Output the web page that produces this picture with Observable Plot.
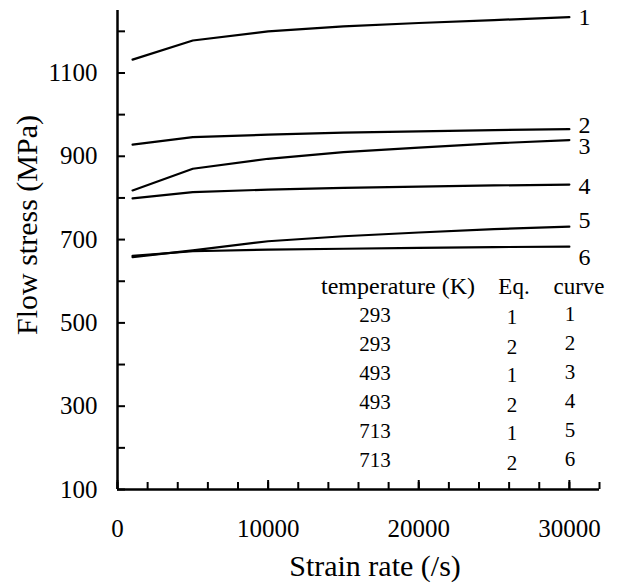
<!DOCTYPE html>
<html>
<head>
<meta charset="utf-8">
<script src="https://cdn.jsdelivr.net/npm/d3@7"></script>
<script src="https://cdn.jsdelivr.net/npm/@observablehq/plot@0.6"></script>
<style>
  html, body { margin: 0; padding: 0; background: #fff; }
  #wrap { position: relative; width: 618px; height: 583px; font-family: "Liberation Serif", "Times New Roman", serif; }
  #wrap svg { display: block; }
  .cell { position: absolute; font-family: "Liberation Serif", "Times New Roman", serif; font-size: 21px; line-height: 1; transform: translate(-50%, -50%); white-space: nowrap; color: #000; }
  .title { position: absolute; font-family: "Liberation Serif", "Times New Roman", serif; font-size: 30px; line-height: 1; white-space: nowrap; color: #000; }
</style>
</head>
<body>
<div id="wrap"></div>
<script>
// ---- data ----
const strainRates = [1000, 5000, 10000, 15000, 20000, 25000, 30000];
const curve1 = [1132, 1178, 1200, 1212, 1220, 1227, 1234];
const curve2 = [928, 946, 952, 957, 960, 963, 965];
const curve3 = [818, 870, 894, 910, 921, 931, 939];
const curve4 = [799, 814, 820, 824, 827, 830, 832];
const curve5 = [658, 674, 696, 708, 717, 725, 731];
const curve6 = [661, 672, 676, 678, 680, 682, 683];
const curveNames = ["1", "2", "3", "4", "5", "6"];
const temperatures = ["293", "293", "493", "493", "713", "713"];
const equations = ["1", "2", "1", "2", "1", "2"];
const tableHeaders = ["temperature (K)", "Eq.", "curve"];
const xTickLabels = [0, 10000, 20000, 30000];
const yTickLabels = [100, 300, 500, 700, 900, 1100];
const xTitle = "Strain rate (/s)";
const yTitle = "Flow stress (MPa)";

const curves = [curve1, curve2, curve3, curve4, curve5, curve6];
const rows = [];
curves.forEach((c, i) => c.forEach((v, j) => rows.push({curve: curveNames[i], x: strainRates[j], y: v})));
const ends = curves.map((c, i) => ({curve: curveNames[i], x: strainRates[strainRates.length - 1], y: c[c.length - 1]}));

const font = "Liberation Serif, Times New Roman, serif";
const labelDy = [0, -4, 6, 2, -6, 11];

const marks = [
  Plot.axisX(d3.range(0, 32001, 2000), {anchor: "bottom", tickSize: -7, text: null, strokeWidth: 2, label: null}),
  Plot.axisX(xTickLabels, {anchor: "bottom", tickSize: -9, text: null, strokeWidth: 2, label: null}),
  Plot.axisY(d3.range(100, 1251, 100), {anchor: "left", tickSize: -8, text: null, strokeWidth: 2, label: null}),
  Plot.text(xTickLabels, {x: d => d, frameAnchor: "bottom", lineAnchor: "middle", dy: 39, text: d => String(d), fontSize: 25, fontFamily: font}),
  Plot.text(yTickLabels, {y: d => d, frameAnchor: "left", textAnchor: "end", dx: -20, text: d => String(d), fontSize: 25, fontFamily: font}),
  Plot.ruleY([100], {strokeWidth: 2.5}),
  Plot.ruleX([0], {strokeWidth: 2.5}),
  Plot.line(rows, {x: "x", y: "y", z: "curve", stroke: "black", strokeWidth: 2.2}),
  ...ends.map((e, i) => Plot.text([e], {x: "x", y: "y", text: "curve", textAnchor: "start", dx: 9, dy: labelDy[i], fontSize: 24, fontFamily: font}))
];

const chart = Plot.plot({
  width: 618,
  height: 583,
  marginLeft: 117,
  marginRight: 19,
  marginTop: 10,
  marginBottom: 94,
  x: {domain: [0, 32000], label: null},
  y: {domain: [100, 1250], label: null},
  style: {fontFamily: font, color: "black", background: "white", overflow: "visible"},
  marks
});
const wrap = document.getElementById("wrap");
wrap.appendChild(chart);

// axis titles
const xt = document.createElement("div");
xt.className = "title";
xt.textContent = xTitle;
xt.style.left = "375px";
xt.style.top = "566px";
xt.style.transform = "translate(-50%, -50%)";
wrap.appendChild(xt);

const yt = document.createElement("div");
yt.className = "title";
yt.textContent = yTitle;
yt.style.left = "27px";
yt.style.top = "225px";
yt.style.transform = "translate(-50%, -50%) rotate(-90deg)";
wrap.appendChild(yt);

// legend table
function cell(text, x, y, size) {
  const s = document.createElement("span");
  s.className = "cell";
  s.textContent = text;
  s.style.left = x + "px";
  s.style.top = y + "px";
  if (size) s.style.fontSize = size + "px";
  wrap.appendChild(s);
}
cell(tableHeaders[0], 398, 286, 24);
cell(tableHeaders[1], 514, 286, 23);
cell(tableHeaders[2], 579, 286, 23);
temperatures.forEach((t, i) => {
  const y = 315 + i * 29;
  cell(t, 375, y);
  cell(equations[i], 512, y + (equations[i] === "2" ? 3 : 2));
  cell(curveNames[i], 570, y - 1);
});
</script>
</body>
</html>
